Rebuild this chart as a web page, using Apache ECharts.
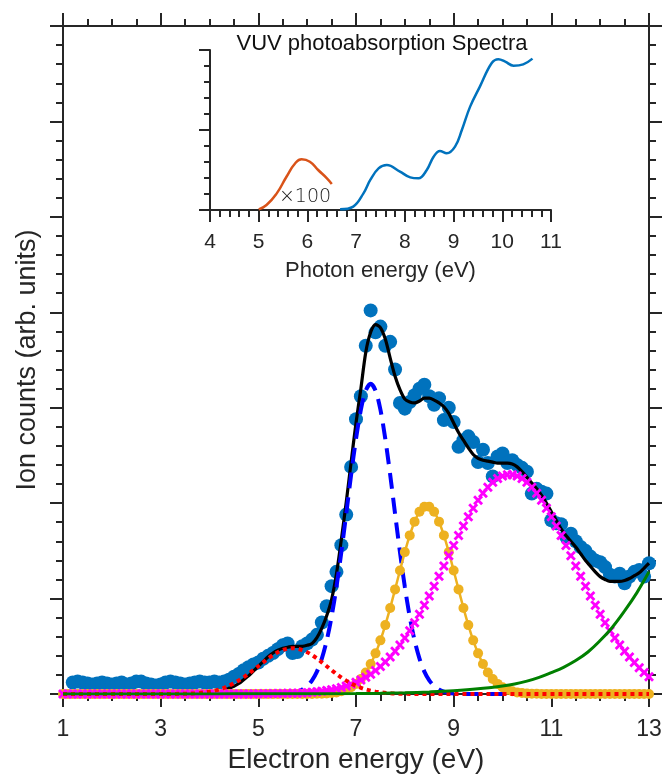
<!DOCTYPE html>
<html><head><meta charset="utf-8">
<script src="https://cdn.jsdelivr.net/npm/echarts@6/dist/echarts.min.js"></script>
<style>html,body{margin:0;padding:0;background:#fff}#c{width:662px;height:774px}</style>
</head><body><div id="c"></div>
<script>
// ---------- Main plot data (Electron energy, eV) ----------
const componentStart = 1.0;   // components sampled every 0.1 eV from 1.0 to 13.0
const componentStep = 0.1;
const dotStart = 1.2;         // measured points every 0.1 eV from 1.2 to 13.0
const dotStep = 0.1;
const fitStart = 4.0;         // total fit every 0.1 eV from 4.0 to 13.0
const fitStep = 0.1;

const measuredCounts = [
  0.12,0.13,0.12,0.11,0.10,0.11,0.12,0.11,0.10,0.11,0.12,0.10,0.11,0.13,0.13,0.11,0.10,0.09,0.10,0.12,
  0.13,0.12,0.11,0.10,0.11,0.12,0.13,0.12,0.12,0.13,0.12,
  0.13,0.15,0.18,0.21,0.25,0.28,0.31,0.33,0.37,0.40,0.43,0.47,0.51,0.53,0.43,0.44,0.50,0.53,0.57,0.62,
  0.75,0.92,1.13,1.28,1.56,1.88,2.38,2.88,3.12,3.65,4.02,3.79,3.85,3.65,3.69,3.40,3.05,2.99,3.06,3.13,
  3.20,3.24,3.12,3.03,3.10,2.87,3.00,2.85,2.59,2.66,2.70,2.64,2.43,2.56,2.42,2.28,2.49,2.52,2.42,2.45,
  2.40,2.37,2.33,2.10,2.15,2.12,2.10,1.82,1.79,1.78,1.65,1.68,1.60,1.54,1.50,1.44,1.40,1.38,1.33,1.25,
  1.23,1.26,1.16,1.23,1.28,1.30,1.23,1.37
];

const totalFit = [
  0.00,0.01,0.02,0.04,0.06,0.08,0.11,0.15,0.19,0.24,
  0.29,0.34,0.39,0.43,0.46,0.48,0.49,0.50,0.50,0.50,
  0.51,0.53,0.59,0.69,0.82,0.99,1.26,1.62,2.01,2.43,
  2.84,3.20,3.58,3.79,3.87,3.84,3.72,3.52,3.33,3.19,
  3.09,3.06,3.05,3.07,3.10,3.10,3.08,3.05,3.01,2.94,
  2.84,2.74,2.66,2.58,2.51,2.47,2.45,2.44,2.43,2.42,
  2.42,2.42,2.41,2.38,2.33,2.27,2.21,2.15,2.08,2.00,
  1.91,1.82,1.73,1.66,1.60,1.54,1.47,1.40,1.34,1.28,
  1.23,1.20,1.18,1.18,1.18,1.19,1.21,1.24,1.27,1.32,
  1.37
];

const peakRed = [
  0,0,0,0,0,0,0,0,0,0, 0,0,0,0,0,0,0,0,0,0,
  0,0,0.001,0.001,0.002,0.003,0.005,0.008,0.012,0.018,
  0.025,0.035,0.048,0.065,0.088,0.112,0.142,0.175,0.212,0.252,
  0.291,0.332,0.372,0.408,0.438,0.461,0.475,0.480,0.475,0.461,
  0.438,0.408,0.372,0.332,0.291,0.250,0.210,0.173,0.140,0.110,
  0.086,0.065,0.048,0.035,0.025,0.018,0.012,0.008,0.005,0.003,
  0.002,0.001,0.001,
  0,0,0,0,0,0,0,0,0,0,0,0,0,0,0,0,0,0,0,0,0,0,0,0,
  0,0,0,0,0,0,0,0,0,0,0,0,0,0,0,0,0,0,0,0,0,0,0,0
];

const peakBlue = [
  0,0,0,0,0,0,0,0,0,0, 0,0,0,0,0,0,0,0,0,0, 0,0,0,0,0,0,0,0,0,0,
  0,0,0,0,0,0,0,0,0,0, 0,0,0,0,0,
  0.003,0.006,0.013,0.025,0.046,0.083,0.143,0.235,0.371,0.560,
  0.811,1.123,1.488,1.889,2.297,2.673,2.980,3.180,3.250,3.180,
  2.980,2.673,2.297,1.889,1.488,1.123,0.811,0.560,0.371,0.235,
  0.143,0.083,0.046,0.025,0.013,0.006,0.003,
  0,0,0,0,0,0,0,0,0,0, 0,0,0,0,0,0,0,0,0,0, 0,0,0,0,0,0,0,0,0,0,
  0,0,0,0,0,0,0,0,0
];

const peakOrange = [
  0,0,0,0,0,0,0,0,0,0, 0,0,0,0,0,0,0,0,0,0, 0,0,0,0,0,0,0,0,0,0,
  0,0,0,0,0,0,0,0,0,0, 0,0,0,0,0,0,0,0,0,0,
  0.001,0.001,0.002,0.003,0.006,0.010,0.017,0.028,0.045,0.070,
  0.106,0.157,0.225,0.314,0.426,0.562,0.722,0.902,1.096,1.294,
  1.487,1.662,1.806,1.909,1.963,1.963,1.909,1.806,1.662,1.487,
  1.294,1.096,0.902,0.722,0.562,0.426,0.314,0.225,0.157,0.106,
  0.070,0.045,0.028,0.017,0.010,0.006,0.003,0.002,0.001,0.001,
  0,0,0,0,0,0,0,0,0,0, 0,0,0,0,0,0,0,0,0,0, 0
];

const peakMagenta = [
  0,0,0,0,0,0,0,0,0,0, 0,0,0,0,0,0,0,0,0,0, 0,0,0,0,0,0,0,0,0,0,
  0,0,0,0,0,0,0,0,0,0,
  0.002,0.002,0.003,0.004,0.005,0.006,0.007,0.008,0.009,0.011,
  0.014,0.018,0.023,0.029,0.036,0.045,0.055,0.068,0.083,0.101,
  0.122,0.147,0.175,0.208,0.245,0.288,0.336,0.389,0.449,0.514,
  0.586,0.664,0.747,0.835,0.929,1.028,1.130,1.235,1.341,1.449,
  1.555,1.660,1.761,1.857,1.947,2.030,2.103,2.166,2.218,2.258,
  2.285,2.298,2.298,2.285,2.258,2.218,2.166,2.103,2.030,1.947,
  1.857,1.761,1.660,1.555,1.449,1.341,1.235,1.130,1.028,0.929,
  0.835,0.747,0.664,0.586,0.514,0.449,0.389,0.330,0.275,0.225,
  0.180
];

const backgroundEnergy = [1,2,3,4,5,6,7,7.5,8,8.5,9,9.5,10,10.25,10.5,10.75,11,11.25,11.5,11.75,12,12.25,12.5,12.75,13];
const backgroundGreen  = [0,0,0,0.001,0.002,0.003,0.005,0.008,0.013,0.022,0.035,0.055,0.085,0.105,0.135,0.175,0.225,0.28,0.35,0.44,0.56,0.70,0.87,1.06,1.28];

const mainXTicks = {min: 1, max: 13, interval: 2};
const mainYRange = {min: 0, max: 7, interval: 1};

// ---------- Inset data (Photon energy, eV) ----------
const insetOrangeEnergy = [5.0,5.16,5.37,5.57,5.75,5.88,6.05,6.22,6.40,6.5];
const insetOrangeValue  = [0.04,0.31,1.04,2.08,2.92,3.17,3.02,2.50,1.98,1.63];
const insetBlueEnergy = [6.67,6.94,7.15,7.29,7.46,7.63,7.90,8.11,8.28,8.45,8.59,8.72,8.86,9.03,9.17,9.34,9.54,9.78,9.92,10.06,10.23,10.43,10.62];
const insetBlueValue  = [0.04,0.21,1.04,1.88,2.60,2.81,2.40,2.04,1.98,2.50,3.33,3.69,3.54,3.96,5.00,6.46,7.71,9.17,9.42,9.27,9.02,9.10,9.46];
const insetXTicks = {min: 4, max: 11, interval: 1};
const insetYRange = {min: 0, max: 10, interval: 5};

// ---------- helpers ----------
function pairs(start, step, values) {
  return values.map((v, i) => [Math.round((start + step * i) * 100) / 100, v]);
}
function zip(xs, ys) { return xs.map((x, i) => [x, ys[i]]); }

const FONT = '"Liberation Sans", Arial, Helvetica, sans-serif';
const AX = '#262626';
const axisLineStyle = {color: AX, width: 2};

function mainX(pos, withLabels) {
  return {
    gridIndex: 0, type: 'value', position: pos, ...mainXTicks,
    axisLine: {show: true, onZero: false, lineStyle: axisLineStyle},
    axisTick: {show: true, inside: false, length: 13, lineStyle: axisLineStyle},
    minorTick: {show: true, splitNumber: 4, length: 7, lineStyle: axisLineStyle},
    splitLine: {show: false}, minorSplitLine: {show: false},
    axisLabel: withLabels ? {show: true, fontSize: 23, color: AX, fontFamily: FONT, margin: 24, showMinLabel: true, showMaxLabel: true, hideOverlap: false} : {show: false},
    name: withLabels ? 'Electron energy (eV)' : '', nameLocation: 'middle', nameGap: 52,
    nameTextStyle: {fontSize: 28, color: AX, fontFamily: FONT}
  };
}
function mainY(pos, withName) {
  return {
    gridIndex: 0, type: 'value', position: pos, ...mainYRange,
    axisLine: {show: true, onZero: false, lineStyle: axisLineStyle},
    axisTick: {show: true, inside: false, length: 13, lineStyle: axisLineStyle},
    minorTick: {show: true, splitNumber: 5, length: 7, lineStyle: axisLineStyle},
    splitLine: {show: false}, minorSplitLine: {show: false},
    axisLabel: {show: false},
    name: withName ? 'Ion counts (arb. units)' : '', nameLocation: 'middle', nameGap: 22, nameRotate: 90,
    nameTextStyle: {fontSize: 27, color: AX, fontFamily: FONT}
  };
}

const chart = echarts.init(document.getElementById('c'), null, {renderer: 'canvas'});
const option = {
  animation: false,
  backgroundColor: '#ffffff',
  grid: [
    {left: 63, top: 26, width: 586, height: 668, containLabel: false, outerBoundsMode: 'none'},
    {left: 210, top: 50, width: 341, height: 160, containLabel: false, outerBoundsMode: 'none'}
  ],
  xAxis: [
    mainX('bottom', true),
    mainX('top', false),
    {
      gridIndex: 1, type: 'value', position: 'bottom', ...insetXTicks,
      axisLine: {show: true, onZero: false, lineStyle: {color: AX, width: 2}},
      axisTick: {show: true, inside: false, length: 12, lineStyle: {color: AX, width: 2}},
      minorTick: {show: true, splitNumber: 5, length: 7, lineStyle: {color: AX, width: 2}},
      splitLine: {show: false}, minorSplitLine: {show: false},
      axisLabel: {fontSize: 21, color: AX, fontFamily: FONT, margin: 22, showMinLabel: true, showMaxLabel: true, hideOverlap: false},
      name: 'Photon energy (eV)', nameLocation: 'middle', nameGap: 50,
      nameTextStyle: {fontSize: 22, color: AX, fontFamily: FONT}
    }
  ],
  yAxis: [
    mainY('left', true),
    mainY('right', false),
    {
      gridIndex: 1, type: 'value', position: 'left', ...insetYRange,
      axisLine: {show: true, onZero: false, lineStyle: {color: AX, width: 2}},
      axisTick: {show: true, inside: false, length: 11, lineStyle: {color: AX, width: 2}},
      minorTick: {show: true, splitNumber: 5, length: 6, lineStyle: {color: AX, width: 2}},
      splitLine: {show: false}, minorSplitLine: {show: false},
      axisLabel: {show: false}
    }
  ],
  graphic: [
    {type: 'text', x: 382, y: 44, style: {text: 'VUV photoabsorption Spectra', font: '22px ' + FONT, fill: '#111', textAlign: 'center', textVerticalAlign: 'middle'}},
    {type: 'text', x: 305, y: 197, style: {text: '×100', font: '300 19px "DejaVu Sans", sans-serif', fill: '#222', textAlign: 'center', textVerticalAlign: 'middle'}}
  ],
  series: [
    {
      name: 'measured', type: 'scatter', xAxisIndex: 0, yAxisIndex: 0,
      data: pairs(dotStart, dotStep, measuredCounts),
      symbol: 'circle', symbolSize: 14, itemStyle: {color: '#0072BD', opacity: 1}, z: 2
    },
    {
      name: 'fit', type: 'line', xAxisIndex: 0, yAxisIndex: 0,
      data: pairs(fitStart, fitStep, totalFit), smooth: 0.3, showSymbol: false,
      lineStyle: {color: '#000000', width: 3.2}, z: 3
    },
    {
      name: 'peak2', type: 'line', xAxisIndex: 0, yAxisIndex: 0,
      data: pairs(componentStart, componentStep, peakBlue), smooth: 0.3, showSymbol: false,
      lineStyle: {color: '#0000FF', width: 4, type: [16, 9], cap: 'butt'}, z: 4
    },
    {
      name: 'peak3', type: 'line', xAxisIndex: 0, yAxisIndex: 0,
      data: pairs(componentStart, componentStep, peakOrange), smooth: 0.3,
      symbol: 'circle', symbolSize: 10, showSymbol: true, showAllSymbol: true,
      itemStyle: {color: '#EDB120', opacity: 1},
      lineStyle: {color: '#EDB120', width: 2.5}, z: 5
    },
    {
      name: 'peak4', type: 'scatter', xAxisIndex: 0, yAxisIndex: 0,
      data: pairs(componentStart, componentStep, peakMagenta),
      symbol: 'path://M0,2L2,0L5,3L8,0L10,2L7,5L10,8L8,10L5,7L2,10L0,8L3,5Z',
      symbolSize: 10, itemStyle: {color: '#FF00FF', opacity: 1}, z: 6
    },
    {
      name: 'peak1', type: 'line', xAxisIndex: 0, yAxisIndex: 0,
      data: pairs(componentStart, componentStep, peakRed), smooth: 0.3, showSymbol: false,
      lineStyle: {color: '#FF0000', width: 4, type: [4, 4], cap: 'butt'}, z: 7
    },
    {
      name: 'background', type: 'line', xAxisIndex: 0, yAxisIndex: 0,
      data: zip(backgroundEnergy, backgroundGreen), smooth: 0.4, showSymbol: false,
      lineStyle: {color: '#008000', width: 3}, z: 8
    },
    {
      name: 'inset-x100', type: 'line', xAxisIndex: 2, yAxisIndex: 2,
      data: zip(insetOrangeEnergy, insetOrangeValue), smooth: 0.5, showSymbol: false,
      lineStyle: {color: '#D95319', width: 2.5}
    },
    {
      name: 'inset', type: 'line', xAxisIndex: 2, yAxisIndex: 2,
      data: zip(insetBlueEnergy, insetBlueValue), smooth: 0.4, showSymbol: false,
      lineStyle: {color: '#0072BD', width: 2.5}
    }
  ]
};
chart.setOption(option);
</script>
</body></html>
